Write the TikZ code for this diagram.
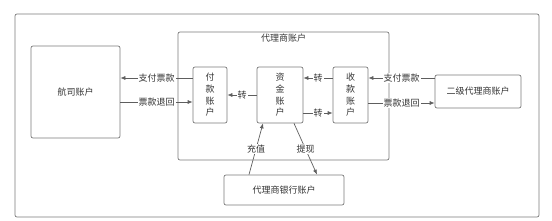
\documentclass[tikz,border=0pt]{standalone}
\usepackage{fontspec}
\setmainfont{Noto Sans CJK SC}
\usepackage{tikz}
\usetikzlibrary{arrows.meta,positioning,calc}
\definecolor{ink}{HTML}{333333}
\definecolor{edge}{HTML}{7A7A7A}
\definecolor{wire}{HTML}{5E5E5E}
\tikzset{
  >={Latex[length=5pt,width=4pt]},
  every picture/.style={line width=0.7pt,font=\fontsize{9}{11.6}\selectfont},
  bx/.style={draw=edge,fill=white,rounded corners=2pt,align=center,inner sep=0pt,text=ink},
  grp/.style={draw=edge,rounded corners=2pt,inner sep=0pt},
  arr/.style={->,draw=wire},
  lab/.style={fill=white,inner sep=1pt,text=ink},
}
\begin{document}
\begin{tikzpicture}[x=1pt,y=-1pt]
  \useasboundingbox (0,0) rectangle (552,221);
  % frames
  \node[grp,minimum width=524pt,minimum height=203pt] (outer) at (277,115.5) {};
  \node[grp,minimum width=211pt,minimum height=128pt] (agent) at (283.5,96) {};
  \node[anchor=north,text=ink,inner sep=0pt] (agentT) at ([yshift=-2pt]agent.north) {代理商账户};
  % accounts
  \node[bx,minimum width=89pt,minimum height=92pt] (air)  at (75.5,92)  {航司账户};
  \node[bx,minimum width=34pt,minimum height=56pt] (pay)  at (210,95)   {付\\款\\账\\户};
  \node[bx,minimum width=46pt,minimum height=56pt] (fund) at (280,95)   {资\\金\\账\\户};
  \node[bx,minimum width=35pt,minimum height=56pt] (recv) at (350.5,95) {收\\款\\账\\户};
  \node[bx,minimum width=86pt,minimum height=33pt] (sec)  at (478,91.5) {二级代理商账户};
  \node[bx,minimum width=120pt,minimum height=30pt] (bank) at (284,190) {代理商银行账户};
  % arrows
  \draw[arr] ([yshift=17pt]pay.west) -- node[lab]{支付票款} ([yshift=17pt]pay.west -| air.east);
  \draw[arr] ([yshift=-7pt]pay.west -| air.east) -- node[lab]{票款退回} ([yshift=-7pt]pay.west);
  \draw[arr] (fund.west) -- node[lab]{转} (pay.east);
  \draw[arr] ([yshift=17pt]recv.west) -- node[lab]{转} ([yshift=17pt]fund.east);
  \draw[arr] ([yshift=-18pt]fund.east) -- node[lab]{转} ([yshift=-18pt]recv.west);
  \draw[arr] ([yshift=17pt]recv.east -| sec.west) -- node[lab]{支付票款} ([yshift=17pt]recv.east);
  \draw[arr] ([yshift=-8pt]recv.east) -- node[lab]{票款退回} ([yshift=-8pt]recv.east -| sec.west);
  \draw[arr] ([xshift=-35pt]bank.north) -- node[lab]{充值} ([xshift=-17pt]fund.south);
  \draw[arr] ([xshift=14pt]fund.south) -- node[lab]{提现} ([xshift=33pt]bank.north);
\end{tikzpicture}
\end{document}
